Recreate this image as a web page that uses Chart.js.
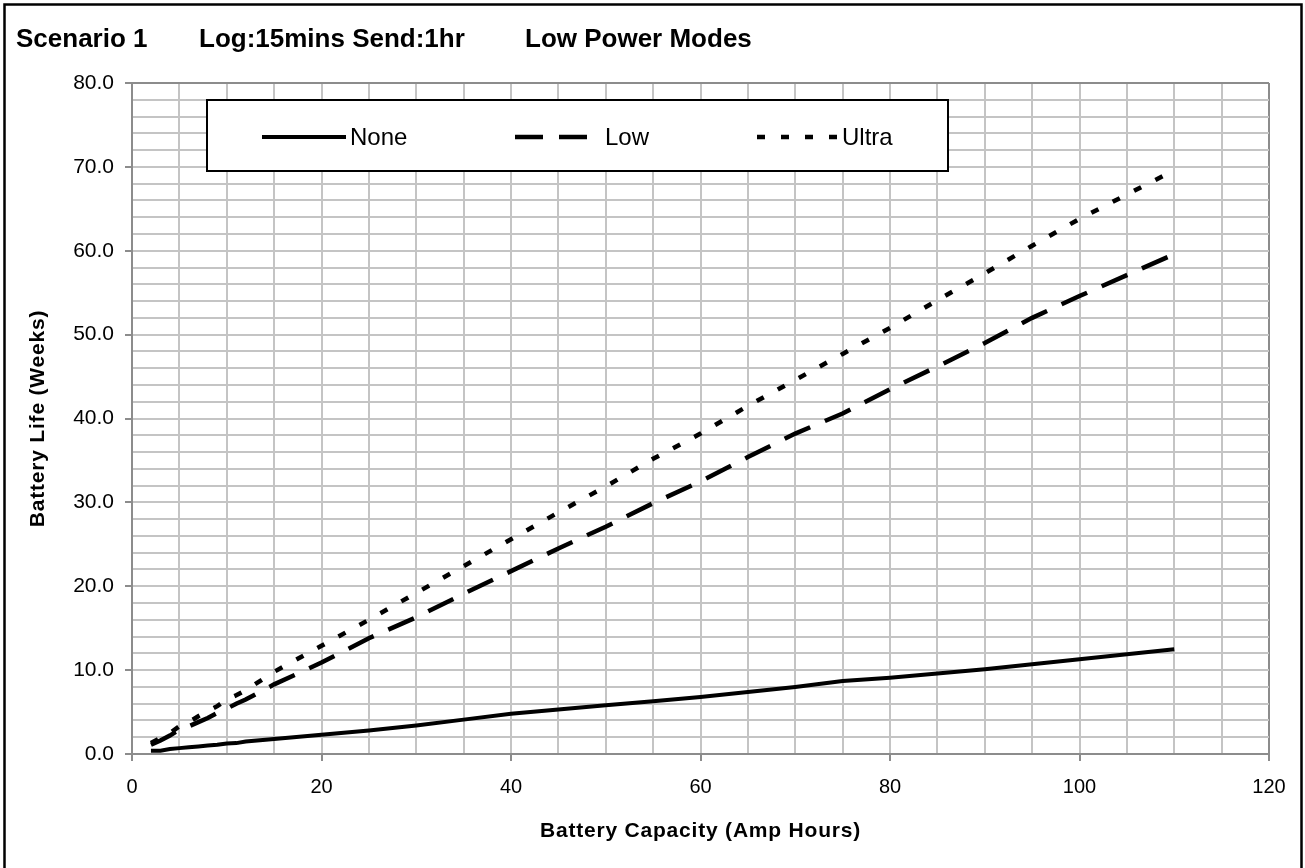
<!DOCTYPE html>
<html>
<head>
<meta charset="utf-8">
<script src="https://cdn.jsdelivr.net/npm/chart.js@4.4.1/dist/chart.umd.min.js"></script>
<style>
  html, body { margin: 0; padding: 0; background: #fff; }
  #wrap { width: 1305px; height: 868px; }
</style>
</head>
<body>
<div id="wrap"><canvas id="myChart" width="1305" height="868"></canvas></div>
<script>
// battery capacity (Amp Hours)
var capacity = [2,3,4,5,6,7,8,9,10,11,12,15,20,25,30,35,40,45,50,55,60,65,70,75,80,85,90,95,100,105,110]
// battery life (weeks) per low power mode
var none  = [0.4,0.4,0.6,0.7,0.8,0.9,1.0,1.1,1.25,1.3,1.5,1.8,2.3,2.8,3.4,4.1,4.8,5.3,5.8,6.3,6.8,7.4,8.0,8.7,9.1,9.6,10.1,10.7,11.3,11.9,12.5]
var low   = [1.1,1.6,2.2,2.9,3.3,3.8,4.3,4.9,5.4,6.0,6.5,8.3,10.9,13.8,16.3,19.1,21.8,24.5,27.1,29.9,32.5,35.4,38.2,40.6,43.5,46.2,49.0,52.0,54.6,57.1,59.6]
var ultra = [1.3,1.9,2.5,3.3,3.8,4.5,5.1,5.7,6.5,7.0,7.6,9.8,12.9,16.0,19.2,22.4,25.6,28.8,31.9,35.2,38.2,41.5,44.6,47.7,50.8,54.1,57.3,60.6,63.8,66.7,69.6]
var seriesNames = ["None","Low","Ultra"]

var xTicks = [0,20,40,60,80,100,120]
var yTicks = [0,10,20,30,40,50,60,70,80]

var titleParts = ["Scenario 1","Log:15mins Send:1hr","Low Power Modes"]
var xTitle = "Battery Capacity (Amp Hours)"
var yTitle = "Battery Life (Weeks)"

var FONT = "'Liberation Sans', Arial, sans-serif"

function pts(vals){
    return capacity.map(function(c,i){ return {x:c, y:vals[i]} })
}

var framePlugin = {
    id:"frame",
    afterDraw:function(chart){
        var ctx = chart.ctx
        var a = chart.chartArea
        ctx.save()
        // outer frame
        ctx.strokeStyle = "#000"
        ctx.lineWidth = 2.5
        ctx.strokeRect(4.5, 4.5, 1297, 875)
        // title
        ctx.fillStyle = "#000"
        ctx.font = "bold 26px " + FONT
        ctx.textBaseline = "alphabetic"
        var tx = [16, 199, 525]
        titleParts.forEach(function(t,i){ ctx.fillText(t, tx[i], 47) })
        // axis titles
        ctx.font = "bold 21px " + FONT
        ctx.textAlign = "center"
        ctx.textBaseline = "middle"
        if ("letterSpacing" in ctx) ctx.letterSpacing = "0.8px"
        ctx.fillText(xTitle, (a.left + a.right) / 2, 831)
        ctx.translate(38, (a.top + a.bottom) / 2)
        ctx.rotate(-Math.PI / 2)
        ctx.fillText(yTitle, 0, 0)
        ctx.restore()
    }
}

var legendPlugin = {
    id:"boxLegend",
    afterDatasetsDraw:function(chart){
        var ctx = chart.ctx
        ctx.save()
        ctx.fillStyle = "#fff"
        ctx.fillRect(207, 100, 741, 71)
        ctx.strokeStyle = "#000"
        ctx.lineWidth = 2
        ctx.strokeRect(207, 100, 741, 71)
        var lineX = [262, 515, 757]
        var lineW = [84, 72, 80]
        var textX = [350, 605, 842]
        ctx.font = "24px " + FONT
        ctx.textBaseline = "middle"
        chart.data.datasets.forEach(function(ds,i){
            ctx.beginPath()
            ctx.setLineDash(ds.borderDash || [])
            ctx.lineWidth = ds.borderWidth
            ctx.strokeStyle = ds.borderColor
            ctx.moveTo(lineX[i], 137)
            ctx.lineTo(lineX[i] + lineW[i], 137)
            ctx.stroke()
            ctx.setLineDash([])
            ctx.fillStyle = "#000"
            ctx.fillText(ds.label, textX[i], 138)
        })
        ctx.restore()
    }
}

var gridColor = function(max){
    return function(c){
        if (c.tick && (c.tick.value === 0 || c.tick.value === max)) return "#8c8c8c"
        return "#c4c4c4"
    }
}

var myChart = document.getElementById("myChart").getContext("2d")

var chart = new Chart(myChart,{
    type:"line",
    data:{
        datasets:[
            {
                label:seriesNames[0],
                data:pts(none),
                borderColor:"#000",
                borderWidth:4,
                pointRadius:0,
                tension:0
            },
            {
                label:seriesNames[1],
                data:pts(low),
                borderColor:"#000",
                borderWidth:4.5,
                borderDash:[28,16],
                pointRadius:0,
                tension:0
            },
            {
                label:seriesNames[2],
                data:pts(ultra),
                borderColor:"#000",
                borderWidth:4.5,
                borderDash:[8,16],
                pointRadius:0,
                tension:0
            }
        ]
    },
    options:{
        responsive:false,
        animation:false,
        layout:{ padding:{ top:83, right:36, left:0, bottom:0 } },
        plugins:{
            legend:{ display:false },
            title:{ display:false },
            tooltip:{ enabled:false }
        },
        scales:{
            x:{
                type:"linear",
                min:0,
                max:120,
                afterFit:function(s){ s.height = 114 },
                ticks:{
                    stepSize:5,
                    maxTicksLimit:100,
                    autoSkip:false,
                    maxRotation:0,
                    padding:14,
                    color:"#000",
                    font:{ family:FONT, size:20 },
                    callback:function(v){ return xTicks.indexOf(v) >= 0 ? String(v) : "" }
                },
                grid:{
                    color:gridColor(120),
                    lineWidth:2,
                    tickLength:7,
                    tickColor:function(c){ return xTicks.indexOf(c.tick.value) >= 0 ? "#8c8c8c" : "rgba(0,0,0,0)" }
                },
                border:{ color:"#8c8c8c", width:2 }
            },
            y:{
                min:0,
                max:80,
                afterFit:function(s){ s.width = 132 },
                ticks:{
                    stepSize:2,
                    maxTicksLimit:100,
                    autoSkip:false,
                    padding:11,
                    color:"#000",
                    font:{ family:FONT, size:21 },
                    callback:function(v){ return yTicks.indexOf(v) >= 0 ? v.toFixed(1) : "" }
                },
                grid:{
                    color:gridColor(80),
                    lineWidth:2,
                    tickLength:7,
                    tickColor:function(c){ return yTicks.indexOf(c.tick.value) >= 0 ? "#8c8c8c" : "rgba(0,0,0,0)" }
                },
                border:{ color:"#8c8c8c", width:2 }
            }
        }
    },
    plugins:[legendPlugin, framePlugin]
})
</script>
</body>
</html>
